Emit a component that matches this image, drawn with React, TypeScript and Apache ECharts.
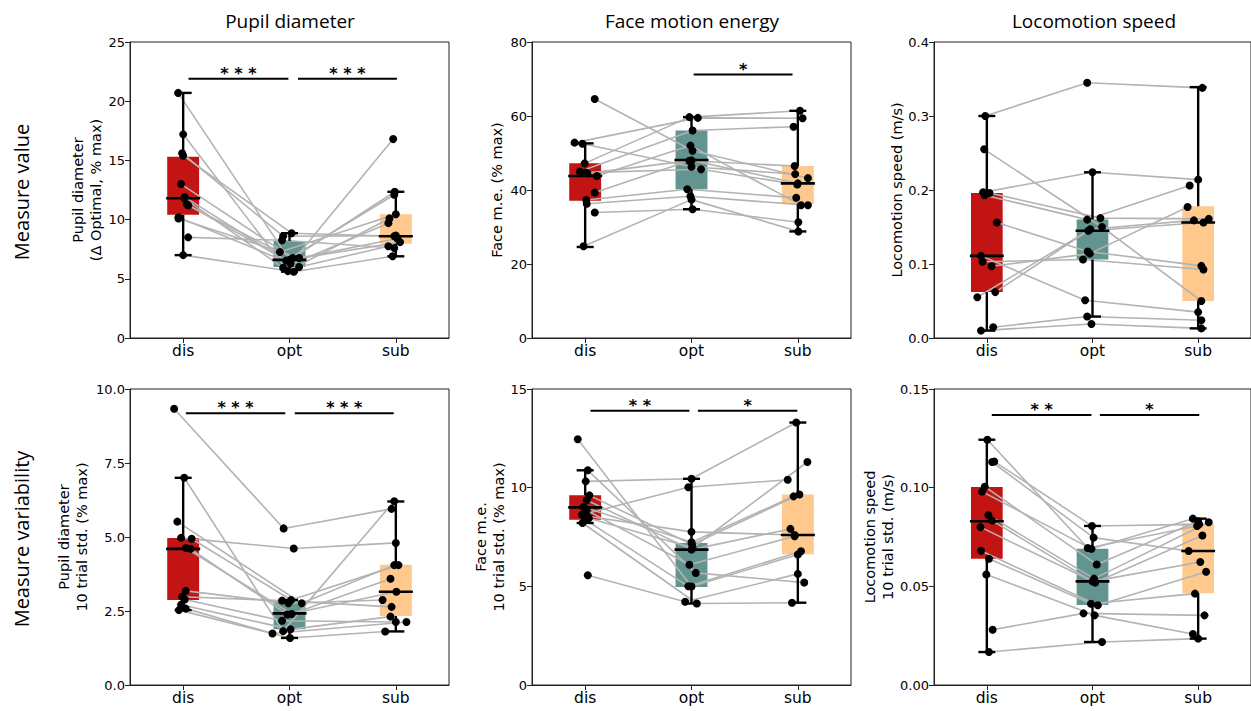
import React, { useEffect, useRef } from "react";
import * as echarts from "echarts";

const groups = ["dis", "opt", "sub"];
const groupColors = ["#C21412", "#629490", "#FFC88C"];

const colTitles = ["Pupil diameter", "Face motion energy", "Locomotion speed"];
const rowTitles = ["Measure value", "Measure variability"];
const yLabels = [
  "Pupil diameter\n(Δ Optimal, % max)",
  "Face m.e. (% max)",
  "Locomotion speed (m/s)",
  "Pupil diameter\n10 trial std. (% max)",
  "Face m.e.\n10 trial std. (% max)",
  "Locomotion speed\n10 trial std. (m/s)",
];

// y axis ranges
const yMin = [0, 0, 0, 0, 0, 0];
const yMax = [25, 80, 0.4, 10, 15, 0.15];
const yStep = [5, 20, 0.1, 2.5, 5, 0.05];
const yDec = [0, 0, 1, 1, 0, 2];

// ---- Panel 1: pupil diameter, value ----
const p1Dis = [20.7, 17.2, 15.6, 15.4, 13.0, 11.9, 11.8, 11.3, 11.2, 10.2, 10.1, 8.5, 7.0];
const p1DisJ = [-0.047, 0, -0.01, 0, -0.02, 0.015, 0.01, 0.035, 0.047, -0.044, -0.044, 0.047, 0];
const p1Opt = [6.6, 5.65, 8.6, 8.85, 6.75, 6.27, 5.93, 6.55, 7.26, 6.0, 6.75, 8.25, 5.6];
const p1OptJ = [0, -0.015, -0.06, 0.02, 0.03, 0.01, -0.06, -0.03, -0.09, 0.09, 0.09, -0.07, 0.04];
const p1Sub = [8.1, 10.1, 8.65, 8.6, 12.35, 16.8, 9.7, 12.1, 10.45, 7.75, 8.4, 7.6, 6.9];
const p1SubJ = [0.04, -0.06, 0, -0.015, -0.01, -0.025, -0.07, -0.015, 0, -0.07, 0.015, -0.015, -0.03];
const p1Box = [[10.4, 11.8, 15.3, 7.0, 20.7], [6.0, 6.6, 8.2, 5.6, 8.85], [7.97, 8.6, 10.45, 6.9, 12.35]];
const p1Sig = [[0.05, 0.99, 21.9], [1.08, 2.01, 21.9]];
const p1SigText = ["* * *", "* * *"];

// ---- Panel 2: face motion energy, value ----
const p2Dis = [64.6, 52.8, 52.5, 47.2, 45.0, 44.7, 43.8, 39.3, 37.3, 36.3, 33.9, 24.8, 44.5];
const p2DisJ = [0.09, -0.1, -0.025, -0.005, -0.05, 0.0, 0.11, 0.09, 0.01, 0.015, 0.09, -0.015, 0.02];
const p2Opt = [50.6, 59.5, 46.3, 59.7, 56.1, 45.6, 52.0, 47.9, 40.2, 38.3, 34.8, 37.4, 48.0];
const p2OptJ = [0.01, 0.06, 0, -0.02, 0.01, 0.09, -0.01, -0.02, -0.04, -0.01, 0.01, 0.0, 0.0];
const p2Sub = [43.2, 59.4, 44.3, 61.4, 57.1, 41.5, 35.9, 46.5, 37.9, 35.9, 31.3, 28.8, 41.8];
const p2SubJ = [0.095, 0.045, -0.025, 0.02, -0.04, -0.005, 0.03, -0.03, -0.015, 0.095, 0.005, 0.005, 0];
const p2Box = [[37.1, 43.8, 47.2, 24.6, 52.6], [40.2, 48.1, 56.1, 34.8, 59.7], [36.2, 41.8, 46.5, 28.8, 61.4]];
const p2Sig = [[1.02, 1.95, 71.2]];
const p2SigText = ["*"];

// ---- Panel 3: locomotion speed, value ----
const p3Dis = [0.3, 0.255, 0.197, 0.196, 0.193, 0.156, 0.111, 0.103, 0.097, 0.062, 0.055, 0.0145, 0.01];
const p3DisJ = [-0.015, -0.025, -0.035, 0.025, -0.02, 0.095, -0.055, -0.04, 0.045, 0.08, -0.09, 0.06, -0.055];
const p3Opt = [0.345, 0.15, 0.224, 0.162, 0.16, 0.117, 0.051, 0.106, 0.114, 0.147, 0.145, 0.029, 0.019];
const p3OptJ = [-0.05, 0.09, 0, 0.075, -0.05, -0.045, -0.07, -0.09, -0.025, -0.02, -0.04, -0.05, -0.01];
const p3Sub = [0.338, 0.05, 0.214, 0.161, 0.206, 0.0975, 0.035, 0.0925, 0.177, 0.159, 0.156, 0.024, 0.013];
const p3SubJ = [0.04, 0.03, 0, 0.1, -0.08, 0.03, 0, 0.05, -0.1, -0.04, 0.05, 0.03, 0.03];
const p3Box = [[0.062, 0.111, 0.196, 0.01, 0.3], [0.106, 0.145, 0.16, 0.029, 0.224], [0.05, 0.156, 0.178, 0.013, 0.339]];
const p3Sig: number[][] = [];
const p3SigText: string[] = [];

// ---- Panel 4: pupil diameter, variability ----
const p4Dis = [9.33, 7.0, 5.52, 4.97, 4.94, 4.63, 4.6, 3.18, 2.98, 2.89, 2.71, 2.58, 2.53];
const p4DisJ = [-0.085, 0.01, -0.055, -0.02, 0.08, 0.025, 0.07, 0.025, -0.01, 0.015, -0.02, 0.025, -0.04];
const p4Opt = [5.29, 1.82, 2.76, 4.61, 2.87, 2.4, 2.38, 2.76, 2.85, 2.17, 1.88, 1.74, 1.59];
const p4OptJ = [-0.055, -0.06, 0.115, 0.04, 0.015, 0.02, -0.02, -0.01, -0.07, -0.07, 0.01, -0.16, 0.005];
const p4Sub = [5.95, 6.21, 4.05, 4.8, 4.05, 3.59, 3.15, 2.87, 2.64, 2.13, 2.31, 2.13, 1.81];
const p4SubJ = [-0.04, -0.015, -0.015, 0, 0.025, -0.05, 0.005, -0.125, -0.04, 0, -0.05, 0.1, -0.1];
const p4Box = [[2.87, 4.6, 4.97, 2.53, 7.0], [1.88, 2.42, 2.85, 1.59, 2.87], [2.33, 3.15, 4.06, 1.81, 6.2]];
const p4Sig = [[0.025, 0.96, 9.18], [1.05, 1.98, 9.18]];
const p4SigText = ["* * *", "* * *"];

// ---- Panel 5: face motion energy, variability ----
const p5Dis = [12.45, 10.88, 10.32, 9.61, 9.36, 9.02, 8.85, 8.63, 8.55, 8.45, 8.38, 8.21, 5.56];
const p5DisJ = [-0.07, 0.025, 0.005, 0.04, 0.015, -0.015, 0.015, -0.03, 0.02, 0.035, 0.0, -0.025, 0.025];
const p5Opt = [4.99, 5.68, 10.45, 7.12, 6.86, 7.23, 6.09, 10.02, 7.76, 6.95, 5.0, 4.13, 4.22];
const p5OptJ = [0, 0.04, 0, 0.005, 0, 0, -0.02, -0.03, 0, 0.01, -0.03, 0.05, -0.06];
const p5Sub = [6.61, 5.19, 13.3, 9.65, 7.91, 9.56, 7.54, 10.4, 7.6, 11.3, 6.78, 4.17, 5.63];
const p5SubJ = [0, 0.06, -0.015, 0.015, -0.07, -0.04, -0.03, -0.095, -0.03, 0.09, 0.03, -0.055, 0];
const p5Box = [[8.38, 9.0, 9.61, 8.21, 10.88], [4.97, 6.86, 7.2, 4.13, 10.45], [6.63, 7.6, 9.65, 4.17, 13.3]];
const p5Sig = [[0.05, 0.98, 13.9], [1.06, 1.995, 13.9]];
const p5SigText = ["* *", "*"];

// ---- Panel 6: locomotion speed, variability ----
const p6Dis = [0.1243, 0.1133, 0.113, 0.1005, 0.098, 0.086, 0.0833, 0.08, 0.068, 0.064, 0.056, 0.028, 0.0167];
const p6DisJ = [0.005, 0.07, 0.05, -0.02, -0.045, 0.015, 0.05, -0.06, -0.055, 0.02, -0.005, 0.055, 0.02];
const p6Opt = [0.0694, 0.0806, 0.0747, 0.0611, 0.069, 0.0539, 0.0525, 0.0519, 0.0404, 0.0412, 0.0353, 0.0363, 0.0218];
const p6OptJ = [-0.045, -0.005, 0.01, 0.04, -0.01, 0.015, 0, 0.025, 0.05, -0.015, 0.02, -0.085, 0.09];
const p6Sub = [0.0806, 0.0814, 0.0679, 0.083, 0.0843, 0.0825, 0.0623, 0.0758, 0.0574, 0.0463, 0.0258, 0.0353, 0.0235];
const p6SubJ = [-0.01, 0.01, -0.09, 0, -0.05, 0.1, 0.02, 0.04, 0.075, -0.03, -0.05, 0.06, 0];
const p6Box = [[0.064, 0.083, 0.1003, 0.0167, 0.1243], [0.0405, 0.0525, 0.0691, 0.0218, 0.0806], [0.0465, 0.0679, 0.0819, 0.0235, 0.0843]];
const p6Sig = [[0.047, 0.99, 0.1368], [1.07, 2.01, 0.1368]];
const p6SigText = ["* *", "*"];

const panels = [
  { dis: p1Dis, disJ: p1DisJ, opt: p1Opt, optJ: p1OptJ, sub: p1Sub, subJ: p1SubJ, box: p1Box, sig: p1Sig, sigText: p1SigText },
  { dis: p2Dis, disJ: p2DisJ, opt: p2Opt, optJ: p2OptJ, sub: p2Sub, subJ: p2SubJ, box: p2Box, sig: p2Sig, sigText: p2SigText },
  { dis: p3Dis, disJ: p3DisJ, opt: p3Opt, optJ: p3OptJ, sub: p3Sub, subJ: p3SubJ, box: p3Box, sig: p3Sig, sigText: p3SigText },
  { dis: p4Dis, disJ: p4DisJ, opt: p4Opt, optJ: p4OptJ, sub: p4Sub, subJ: p4SubJ, box: p4Box, sig: p4Sig, sigText: p4SigText },
  { dis: p5Dis, disJ: p5DisJ, opt: p5Opt, optJ: p5OptJ, sub: p5Sub, subJ: p5SubJ, box: p5Box, sig: p5Sig, sigText: p5SigText },
  { dis: p6Dis, disJ: p6DisJ, opt: p6Opt, optJ: p6OptJ, sub: p6Sub, subJ: p6SubJ, box: p6Box, sig: p6Sig, sigText: p6SigText },
];

// layout
const colLeft = [130, 532, 934];
const rowTop = [42, 389];
const gridW = 319;
const gridH = 296;
const yLabelX = [87, 497, 897, 73, 490, 879];

const TICK_FONT = "DejaVu Sans";
const TITLE_FONT = "Open Sans";
const AX = "#222";

function buildOption() {
  const grid: any[] = [];
  const xAxis: any[] = [];
  const yAxis: any[] = [];
  const series: any[] = [];
  const graphic: any[] = [];

  panels.forEach((p, i) => {
    const r = Math.floor(i / 3);
    const c = i % 3;
    grid.push({
      left: colLeft[c], top: rowTop[r], width: gridW, height: gridH,
      show: true, borderColor: AX, borderWidth: 1, backgroundColor: "transparent",
    });
    xAxis.push({ type: "value", gridIndex: i, min: -0.5, max: 2.5, show: false });
    xAxis.push({
      type: "category", gridIndex: i, data: groups, boundaryGap: true, position: "bottom",
      axisLine: { show: true, onZero: false, lineStyle: { color: AX, width: 1 } },
      axisTick: { show: true, alignWithLabel: true, length: 5, lineStyle: { color: AX } },
      axisLabel: { fontSize: 15.5, color: "#000", margin: 5, fontFamily: TICK_FONT },
      splitLine: { show: false },
    });
    yAxis.push({
      type: "value", gridIndex: i, min: yMin[i], max: yMax[i], interval: yStep[i], position: "left",
      splitLine: { show: false },
      axisLine: { show: true, onZero: false, lineStyle: { color: AX, width: 1 } },
      axisTick: { show: true, length: 5, lineStyle: { color: AX } },
      axisLabel: {
        fontSize: 13, color: "#000", margin: 5, fontFamily: TICK_FONT,
        formatter: (v: number) => v.toFixed(yDec[i]),
      },
    });

    const xi = 2 * i;
    const boxData = p.box.map((b, g) => [g, b[0], b[1], b[2], b[3], b[4]]);

    // boxes
    series.push({
      type: "custom", xAxisIndex: xi, yAxisIndex: i, z: 2, silent: true,
      data: boxData,
      renderItem: (params: any, api: any) => {
        const x = api.value(0);
        const a = api.coord([x - 0.15, api.value(3)]);
        const b = api.coord([x + 0.15, api.value(1)]);
        return {
          type: "rect",
          shape: { x: a[0], y: a[1], width: b[0] - a[0], height: b[1] - a[1] },
          style: { fill: groupColors[params.dataIndex], stroke: null },
        };
      },
    });

    // subject lines
    for (let k = 0; k < p.dis.length; k++) {
      series.push({
        type: "line", xAxisIndex: xi, yAxisIndex: i, z: 3, silent: true,
        symbol: "none", showSymbol: false,
        lineStyle: { color: "#b3b3b3", width: 1.6 },
        data: [
          [0 + p.disJ[k], p.dis[k]],
          [1 + p.optJ[k], p.opt[k]],
          [2 + p.subJ[k], p.sub[k]],
        ],
      });
    }

    // whiskers + median
    series.push({
      type: "custom", xAxisIndex: xi, yAxisIndex: i, z: 4, silent: true,
      data: boxData,
      renderItem: (params: any, api: any) => {
        const x = api.value(0);
        const q1 = api.coord([x, api.value(1)]);
        const med = api.coord([x, api.value(2)]);
        const q3 = api.coord([x, api.value(3)]);
        const lo = api.coord([x, api.value(4)]);
        const hi = api.coord([x, api.value(5)]);
        const capL = api.coord([x - 0.08, 0])[0];
        const capR = api.coord([x + 0.08, 0])[0];
        const medL = api.coord([x - 0.16, 0])[0];
        const medR = api.coord([x + 0.16, 0])[0];
        const st = { stroke: "#000", lineWidth: 2.4 };
        return {
          type: "group",
          children: [
            { type: "line", shape: { x1: q1[0], y1: q1[1], x2: lo[0], y2: lo[1] }, style: st },
            { type: "line", shape: { x1: q3[0], y1: q3[1], x2: hi[0], y2: hi[1] }, style: st },
            { type: "line", shape: { x1: capL, y1: lo[1], x2: capR, y2: lo[1] }, style: st },
            { type: "line", shape: { x1: capL, y1: hi[1], x2: capR, y2: hi[1] }, style: st },
            { type: "line", shape: { x1: medL, y1: med[1], x2: medR, y2: med[1] }, style: { stroke: "#000", lineWidth: 2.6 } },
          ],
        };
      },
    });

    // points
    const pts: number[][] = [];
    for (let k = 0; k < p.dis.length; k++) {
      pts.push([0 + p.disJ[k], p.dis[k]]);
      pts.push([1 + p.optJ[k], p.opt[k]]);
      pts.push([2 + p.subJ[k], p.sub[k]]);
    }
    series.push({
      type: "scatter", xAxisIndex: xi, yAxisIndex: i, z: 6, silent: true,
      symbol: "circle", symbolSize: 8, itemStyle: { color: "#000", opacity: 1 },
      data: pts,
    });

    // significance bars
    if (p.sig.length) {
      const texts = p.sigText;
      series.push({
        type: "custom", xAxisIndex: xi, yAxisIndex: i, z: 5, silent: true,
        data: p.sig,
        renderItem: (params: any, api: any) => {
          const a = api.coord([api.value(0), api.value(2)]);
          const b = api.coord([api.value(1), api.value(2)]);
          return {
            type: "group",
            children: [
              { type: "line", shape: { x1: a[0], y1: a[1], x2: b[0], y2: b[1] }, style: { stroke: "#000", lineWidth: 2 } },
              {
                type: "text", x: (a[0] + b[0]) / 2, y: a[1] + 2.5,
                style: {
                  text: texts[params.dataIndex], fill: "#000",
                  font: `bold 16px '${TICK_FONT}'`,
                  align: "center", verticalAlign: "bottom",
                  textAlign: "center", textVerticalAlign: "bottom",
                },
              },
            ],
          };
        },
      });
    }

    // y label
    graphic.push({
      type: "text", x: yLabelX[i], y: rowTop[r] + gridH / 2, rotation: Math.PI / 2,
      style: {
        text: yLabels[i], fill: "#000", font: `14.5px '${TICK_FONT}'`, lineHeight: 18,
        align: "center", verticalAlign: "middle", textAlign: "center", textVerticalAlign: "middle",
      },
    });
  });

  colTitles.forEach((t, c) => {
    graphic.push({
      type: "text", x: colLeft[c] + 160, y: 21,
      style: {
        text: t, fill: "#000", font: `19px '${TITLE_FONT}'`,
        align: "center", verticalAlign: "middle", textAlign: "center", textVerticalAlign: "middle",
      },
    });
  });
  rowTitles.forEach((t, r) => {
    graphic.push({
      type: "text", x: 21, y: rowTop[r] + gridH / 2 + 2, rotation: Math.PI / 2,
      style: {
        text: t, fill: "#000", font: `20px '${TITLE_FONT}'`,
        align: "center", verticalAlign: "middle", textAlign: "center", textVerticalAlign: "middle",
      },
    });
  });

  return { animation: false, backgroundColor: "#fff", grid, xAxis, yAxis, series, graphic };
}

export default function App() {
  const ref = useRef<HTMLDivElement>(null);
  useEffect(() => {
    if (!ref.current) return;
    const chart = echarts.init(ref.current, undefined, { renderer: "svg" });
    chart.setOption(buildOption() as any);
    return () => chart.dispose();
  }, []);
  return (
    <div style={{ position: "fixed", left: 0, top: 0, width: 1251, height: 711, background: "#fff", overflow: "hidden" }}>
      <div ref={ref} style={{ width: 1251, height: 711 }} />
    </div>
  );
}
